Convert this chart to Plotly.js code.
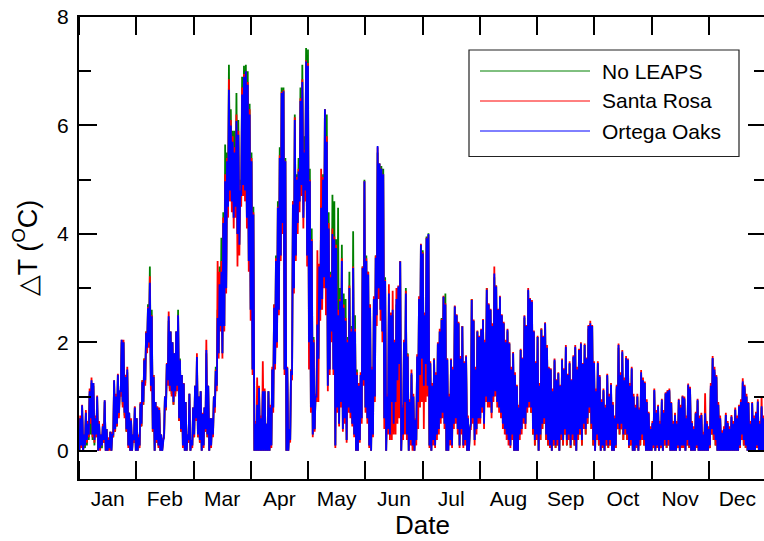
<!DOCTYPE html>
<html>
<head>
<meta charset="utf-8">
<script src="https://cdn.plot.ly/plotly-3.0.1.min.js"></script>
<style>
html,body{margin:0;padding:0;overflow:hidden;background:#fff;}
#chart{width:768px;height:541px;}
</style>
</head>
<body>
<div id="chart"></div>
<script>
// Month tick labels (equal-width months on the axis)
const monthLabels = ["Jan","Feb","Mar","Apr","May","Jun","Jul","Aug","Sep","Oct","Nov","Dec"];
const seriesNames = ["No LEAPS","Santa Rosa","Ortega Oaks"];

// Daily peak / trough of ΔT (°C), day 0 = 1 Jan
const blueMax = [
0.6,0.84,0.3,0.7,0.5,1.1,1.3,1.25,0.6,1.0,
0.5,0.3,0.45,0.93,0.4,0.2,0.35,0.3,1.3,1.0,
1.4,1.1,2.05,2.0,1.36,1.5,0.7,0.56,0.3,0.8,
0.6,0.25,0.87,1.27,1.67,2.17,2.63,3.1,2.48,1.36,
0.9,0.8,0.75,0.3,0.2,1.0,1.6,2.48,2.2,2.0,
1.8,2.2,2.5,1.67,1.4,1.24,0.9,0.3,1.05,0.2,
0.8,1.2,1.73,1.0,1.1,0.68,0.8,1.86,1.2,0.6,
0.6,1.0,1.47,2.45,3.07,3.3,4.2,4.97,5.34,6.66,
6.0,5.7,5.5,6.08,5.83,4.8,6.57,6.9,7.0,6.75,
6.2,5.34,4.36,0.5,0.85,1.16,0.6,1.1,1.1,0.5,
1.1,0.8,1.5,2.64,3.5,4.48,5.4,6.6,6.63,5.34,
1.53,0.4,1.47,4.54,6.1,5.0,5.15,6.45,6.8,5.5,
7.18,7.1,4.97,3.87,2.0,1.0,2.33,3.4,4.48,5.0,
6.3,5.7,4.1,3.2,4.0,3.9,3.74,2.5,2.76,3.5,
2.64,2.4,2.0,3.0,2.2,3.37,2.2,1.4,1.2,1.4,
3.37,4.97,3.5,3.25,2.64,1.5,2.8,3.56,5.62,5.3,
5.2,5.1,3.13,1.0,2.9,2.5,2.6,2.0,2.8,3.03,
3.49,0.8,2.0,2.9,1.74,0.9,1.43,1.0,0.57,1.74,
2.8,3.8,3.64,2.5,3.92,4.0,1.62,1.2,1.68,1.4,
1.98,2.2,2.41,2.84,2.7,1.68,1.0,1.68,1.5,2.66,
2.5,2.35,1.7,2.29,1.62,1.74,0.6,0.39,2.78,2.4,
1.5,2.2,2.1,2.23,2.41,2.0,2.97,2.7,2.6,2.3,
3.27,3.03,2.6,2.84,2.5,2.35,2.0,2.23,1.98,1.5,
1.8,1.4,1.19,0.8,1.86,1.7,2.48,2.3,2.97,2.8,
2.75,2.2,1.62,2.1,1.2,2.23,2.1,2.35,1.9,1.52,
1.5,1.1,1.68,1.3,1.43,1.2,1.68,1.5,1.92,1.4,
1.62,1.3,1.74,1.92,1.5,1.86,1.98,1.6,1.95,1.7,
2.3,2.35,2.3,1.62,1.1,1.62,1.37,0.9,1.12,0.8,
1.4,1.0,1.22,0.85,0.6,1.19,1.95,1.4,1.83,1.3,
1.71,1.68,1.2,1.52,1.0,0.8,1.0,0.76,1.45,1.3,
1.25,0.9,0.69,0.4,0.51,1.12,0.7,0.82,0.5,0.94,
0.7,1.06,1.1,1.12,0.88,0.5,0.66,0.5,0.94,0.8,
1.0,0.97,0.6,1.22,1.15,0.51,0.4,0.69,0.94,0.6,
0.66,0.3,0.69,0.5,0.4,1.2,1.71,1.5,1.37,0.85,
0.6,0.33,0.4,0.66,0.51,0.4,0.63,0.5,0.76,0.6,
0.82,0.9,1.28,1.19,1.0,0.88,0.5,0.88,0.6,0.69,
0.91,0.5,0.82,0.6,0.8];

const blueMin = [
0,0.1,0,0.1,0.2,0.3,0.6,0.3,0.2,0.3,
0,0.05,0.1,0.2,0,0,0.05,0,0.3,0.4,
0.5,0.7,1.1,0.9,0.7,0.4,0.1,0,0,0.2,
0,0,0.1,0.5,0.9,1.3,1.9,2.0,1.2,0.4,
0,0.2,0.1,0,0,0.3,0.8,1.3,1.2,1.1,
0.9,1.1,1.2,0.6,0.4,0.1,0,0,0.2,0,
0.1,0.3,0.6,0.3,0.2,0,0.1,0.4,0.3,0,
0.1,0.3,0.8,1.2,1.8,2.3,1.8,2.3,3.0,4.5,
4.8,4.6,4.3,4.5,4.0,3.8,4.7,4.9,4.8,4.3,
3.5,2.6,1.5,0,0,0,0,0,0,0,
0,0,0.1,0.8,1.6,2.0,2.6,3.6,4.2,1.5,
0,0,0.2,1.4,3.0,3.6,4.2,4.6,4.9,4.3,
4.8,3.6,2.0,0.8,0.3,0.4,1.0,1.7,2.6,2.8,
3.2,3.0,1.2,1.5,2.2,1.5,0.1,0.8,0.5,0.9,
0.4,0.6,0.2,0.8,0.7,0.5,0.3,0,0,0.2,
0.6,1.3,0.8,0.6,0.1,0,0.3,1.0,2.5,3.0,
2.6,2.2,0.6,0,0.4,0.3,0.9,0.5,0.9,1.3,
1.6,0,0.3,0.9,0.3,0,0.2,0.1,0,0.2,
0.9,1.4,1.7,1.2,1.6,1.2,0.1,0,0.2,0.1,
0.3,0.4,0.6,0.7,0.5,0,0,0.2,0.1,0.5,
0.6,0.4,0.1,0.4,0.1,0.2,0,0,0.5,0.6,
0.2,0.4,0.6,0.6,0.8,0.5,1.0,0.9,0.9,0.7,
1.0,1.1,0.9,0.8,0.7,0.5,0.4,0.3,0.2,0.1,
0.3,0,0,0,0.3,0.4,0.6,0.5,0.8,0.9,
0.8,0.4,0.2,0.3,0,0.3,0.5,0.6,0.3,0.2,
0.1,0,0.2,0.1,0.2,0,0.3,0.2,0.4,0.2,
0.3,0.1,0.3,0.2,0,0.3,0.4,0.2,0.5,0.4,
0.6,0.8,0.5,0.2,0,0.3,0.2,0,0.1,0,
0.2,0.1,0.2,0,0,0.1,0.5,0.4,0.5,0.3,
0.4,0.3,0.1,0.2,0,0,0.1,0,0.2,0.3,
0.2,0,0,0,0,0.1,0,0.1,0,0.1,
0,0.2,0.1,0.2,0,0,0,0,0.1,0,
0.1,0.1,0,0.2,0.1,0,0,0,0.1,0,
0,0,0,0,0,0.1,0.4,0.3,0.2,0,
0,0,0,0,0,0,0,0,0,0,
0,0.1,0.3,0.2,0.1,0,0,0,0,0,
0.1,0,0,0,0];

const greenMax = [
0.6,0.8,0.3,0.7,0.5,1.05,1.25,1.2,0.6,0.95,
0.5,0.3,0.45,0.9,0.4,0.2,0.35,0.3,1.25,1.0,
1.4,1.1,2.0,2.0,1.36,1.45,0.7,0.56,0.3,0.8,
0.6,0.25,0.87,1.3,1.7,2.2,2.7,3.4,2.6,1.4,
0.9,0.8,0.7,0.3,0.2,1.0,1.6,2.4,2.2,2.0,
1.8,2.2,2.6,1.7,1.4,1.24,0.9,0.3,1.05,0.2,
0.8,1.2,1.7,1.0,1.1,0.68,0.8,1.8,1.2,0.6,
0.6,1.0,1.55,2.6,3.4,3.93,4.4,5.65,5.5,7.12,
6.3,5.9,5.9,6.6,6.1,5.0,6.9,7.1,7.12,7.0,
6.4,5.5,4.5,0.5,0.8,1.1,0.6,1.05,1.1,0.5,
1.1,0.8,1.5,2.7,3.6,4.6,5.6,6.7,6.7,5.4,
1.53,0.4,1.5,4.6,6.2,5.1,5.4,6.7,7.12,5.8,
7.43,7.4,5.2,4.1,2.1,1.0,2.3,3.4,4.5,5.1,
6.3,6.2,4.4,3.3,4.72,4.6,3.9,4.48,3.0,3.8,
2.9,2.8,2.1,3.3,2.3,4.05,2.5,1.5,1.2,1.4,
3.4,5.0,3.6,3.3,2.7,1.5,2.8,3.6,5.5,5.3,
5.25,5.2,3.2,1.0,2.8,2.5,2.5,2.0,2.7,3.0,
3.5,0.8,2.0,3.0,1.8,0.9,1.4,1.0,0.57,1.7,
2.8,3.8,3.7,2.5,3.95,4.01,1.6,1.2,1.7,1.4,
1.95,2.2,2.45,2.84,2.9,1.7,1.0,1.68,1.5,2.66,
2.5,2.35,1.7,2.3,1.6,1.74,0.6,0.39,2.8,2.4,
1.5,2.2,2.1,2.2,2.4,2.0,3.0,2.7,2.6,2.3,
3.2,3.05,2.6,2.8,2.5,2.35,2.0,2.2,1.98,1.5,
1.8,1.4,1.2,0.8,1.86,1.7,2.45,2.3,2.95,2.8,
2.75,2.2,1.6,2.1,1.2,2.25,2.1,2.35,1.9,1.52,
1.5,1.1,1.65,1.3,1.43,1.2,1.65,1.5,1.9,1.4,
1.6,1.3,1.72,1.9,1.5,1.86,1.95,1.6,1.95,1.7,
2.25,2.3,2.3,1.6,1.1,1.6,1.35,0.9,1.1,0.8,
1.38,1.0,1.2,0.85,0.6,1.15,1.9,1.4,1.8,1.3,
1.68,1.65,1.2,1.5,1.0,0.8,1.0,0.76,1.4,1.3,
1.2,0.9,0.69,0.4,0.5,1.1,0.7,0.8,0.5,0.9,
0.7,1.05,1.08,1.1,0.88,0.5,0.66,0.5,0.9,0.8,
1.0,0.95,0.6,1.2,1.12,0.5,0.4,0.69,0.92,0.6,
0.66,0.3,0.69,0.5,0.4,1.15,1.7,1.45,1.35,0.85,
0.6,0.33,0.4,0.66,0.5,0.4,0.62,0.5,0.75,0.6,
0.8,0.9,1.25,1.15,1.0,0.88,0.5,0.86,0.6,0.69,
0.9,0.5,0.8,0.6,0.78];

const greenMin = [
0,0.05,0,0.05,0.1,0.2,0.3,0.2,0.1,0.25,
0,0.05,0.05,0.15,0,0,0.05,0,0.25,0.35,
0.45,0.65,1.05,0.85,0.65,0.35,0.1,0,0,0.15,
0,0,0.1,0.45,0.85,1.25,1.85,1.95,1.15,0.35,
0,0.15,0.1,0,0,0.25,0.75,1.25,1.15,1.05,
0.85,1.05,1.15,0.55,0.35,0.1,0,0,0.15,0,
0.1,0.25,0.55,0.25,0.15,0,0.1,0.35,0.25,0,
0.1,0.3,0.8,1.2,1.8,2.3,1.8,2.3,3.0,4.5,
4.8,4.6,4.3,4.5,4.0,3.8,4.7,4.9,4.8,4.3,
3.5,2.6,1.5,0,0,0,0,0,0,0,
0,0,0.1,0.8,1.6,2.0,2.6,3.6,4.2,1.5,
0,0,0.2,1.4,3.0,3.6,4.2,4.6,4.9,4.3,
4.8,3.6,2.0,0.8,0.3,0.4,1.0,1.7,2.6,2.8,
3.2,3.0,1.2,1.5,2.2,1.5,0.1,0.8,0.5,0.9,
0.4,0.6,0.2,0.8,0.7,0.5,0.3,0,0,0.2,
0.6,1.3,0.8,0.6,0.1,0,0.3,1.0,2.5,3.0,
2.6,2.2,0.6,0,0.4,0.3,0.9,0.5,0.9,1.3,
1.6,0,0.3,0.9,0.3,0,0.2,0.1,0,0.2,
0.9,1.4,1.7,1.2,1.6,1.2,0.1,0,0.2,0.1,
0.3,0.4,0.6,0.7,0.5,0,0,0.2,0.1,0.5,
0.6,0.4,0.1,0.4,0.1,0.2,0,0,0.5,0.6,
0.2,0.4,0.6,0.6,0.8,0.5,1.0,0.9,0.9,0.7,
1.0,1.1,0.9,0.8,0.7,0.5,0.4,0.3,0.2,0.1,
0.3,0,0,0,0.3,0.4,0.6,0.5,0.8,0.9,
0.7,0.3,0.1,0.2,0,0.2,0.4,0.5,0.2,0.1,
0.05,0,0.1,0.05,0.1,0,0.2,0.1,0.3,0.1,
0.2,0.05,0.2,0.1,0,0.2,0.3,0.1,0.4,0.3,
0.5,0.7,0.4,0.1,0,0.2,0.1,0,0.05,0,
0.1,0.05,0.1,0,0,0.05,0.4,0.3,0.4,0.2,
0.3,0.2,0.05,0.1,0,0,0.05,0,0.1,0.2,
0.1,0,0,0,0,0.05,0,0.05,0,0.05,
0,0.1,0.05,0.1,0,0,0,0,0.05,0,
0.05,0.05,0,0.1,0.05,0,0,0,0.05,0,
0,0,0,0,0,0.05,0.3,0.2,0.1,0,
0,0,0,0,0,0,0,0,0,0,
0,0.05,0.2,0.1,0.05,0,0,0,0,0,
0.05,0,0,0,0];

const redMax = [
0.65,0.85,0.3,0.75,0.55,1.15,1.35,1.25,0.65,1.02,
0.55,0.3,0.5,0.93,0.4,0.25,0.35,0.35,1.3,1.05,
1.42,1.1,2.05,2.05,1.4,1.55,0.7,0.6,0.3,0.82,
0.6,0.3,0.9,1.3,1.7,2.2,2.65,3.22,2.5,1.4,
0.9,0.82,0.8,0.3,0.2,1.0,1.62,2.57,2.2,2.0,
1.8,2.2,2.5,1.67,1.4,1.25,0.9,0.3,1.05,0.2,
0.8,1.2,1.8,1.0,1.1,0.7,0.8,2.05,1.2,0.6,
0.6,1.0,1.5,3.5,3.3,3.5,4.3,5.1,5.4,6.85,
6.1,5.8,5.6,6.2,5.9,4.9,6.7,6.95,7.0,6.8,
6.3,5.4,4.4,0.55,1.35,1.2,0.65,1.65,1.15,0.5,
1.1,0.85,1.55,2.7,3.55,4.5,5.45,6.62,6.65,5.35,
1.55,0.4,1.5,4.6,6.15,5.05,5.2,6.5,6.85,5.55,
7.2,7.15,5.0,3.9,2.05,1.05,3.7,3.45,5.2,5.05,
6.3,5.8,4.2,3.25,4.1,3.95,3.8,2.6,2.8,3.55,
2.7,2.45,2.05,3.05,2.25,3.4,2.25,1.45,1.25,1.45,
3.4,4.97,3.55,3.3,2.7,1.55,2.85,3.6,5.6,5.3,
5.2,5.1,3.15,1.05,3.07,2.55,2.95,2.05,3.0,3.05,
3.5,0.85,2.05,2.95,1.78,0.95,1.5,1.05,0.6,1.78,
2.85,3.82,3.66,2.55,3.93,3.98,1.65,1.25,1.7,1.45,
2.0,2.25,2.43,2.86,2.72,1.7,1.05,1.7,1.55,2.68,
2.52,2.38,1.75,2.3,1.65,1.76,0.65,0.4,2.8,2.42,
1.55,2.22,2.12,2.25,2.43,2.05,3.0,2.72,2.62,2.35,
3.4,3.05,2.62,2.86,2.52,2.38,2.05,2.25,2.0,1.55,
1.82,1.45,1.22,0.85,1.88,1.72,2.5,2.32,3.0,2.82,
2.78,2.22,1.65,2.12,1.25,2.26,2.12,2.37,1.95,1.55,
1.52,1.15,1.7,1.32,1.45,1.22,1.7,1.52,1.95,1.42,
1.65,1.32,1.76,1.95,1.55,1.88,2.0,1.62,1.98,1.72,
2.32,2.4,2.32,1.65,1.15,1.65,1.4,0.95,1.15,0.85,
1.42,1.05,1.25,0.9,0.65,1.22,1.98,1.45,1.86,1.35,
1.75,1.7,1.25,1.55,1.05,0.85,1.05,0.8,1.49,1.35,
1.28,0.95,0.72,0.45,0.55,1.15,0.75,0.85,0.55,0.96,
0.75,1.08,1.12,1.15,0.9,0.55,0.7,0.55,0.96,0.85,
1.02,1.0,0.65,1.24,1.18,0.55,0.45,0.72,0.96,0.65,
0.7,0.35,1.06,0.55,0.45,1.25,1.75,1.55,1.4,0.9,
0.65,0.38,0.45,0.7,0.55,0.45,0.66,0.55,0.8,0.65,
0.85,0.95,1.34,1.22,1.05,0.9,0.55,0.9,0.65,0.72,
0.95,0.55,1.0,0.65,0.85];

const redMin = [
0,0.05,0,0.1,0.15,0.25,0.5,0.25,0.15,0.25,
0,0,0.1,0.15,0,0,0,0,0.25,0.35,
0.45,0.6,1.0,0.8,0.6,0.35,0.05,0,0,0.15,
0,0,0.05,0.45,0.85,1.2,1.8,1.9,1.1,0.35,
0,0.15,0.05,0,0,0.25,0.75,1.2,1.1,1.0,
0.85,1.0,1.1,0.55,0.35,0.05,0,0,0.15,0,
0.05,0.25,0.55,0.25,0.15,0,0.05,0.35,0.25,0,
0.05,0.25,0.7,1.1,1.7,2.2,1.7,2.2,2.9,4.3,
4.6,4.4,4.1,4.3,3.4,3.6,4.5,4.7,4.6,4.1,
3.3,2.4,1.4,0,0,0,0,0,0,0,
0,0,0.05,0.7,1.5,1.9,2.5,3.5,4.0,1.4,
0,0,0.15,1.3,2.9,3.5,4.0,4.4,4.7,4.1,
4.6,3.4,1.5,0.7,0.25,0.35,0.9,0.9,2.4,2.6,
3.0,2.5,1.1,1.4,2.0,1.4,0.05,0.7,0.45,0.8,
0.35,0.5,0.15,0.7,0.6,0.45,0.25,0,0,0.15,
0.5,1.2,0.7,0.5,0.05,0,0.25,0.9,2.3,2.8,
2.4,2.0,0.4,0,0.3,0.2,0.2,0.3,0.3,0.5,
0.6,0,0.2,0.3,0.2,0,0.1,0,0,0.1,
0.4,0.8,0.9,0.4,0.9,1.0,0.05,0,0.1,0.05,
0.2,0.3,0.5,0.6,0.4,0,0,0.1,0.05,0.4,
0.5,0.3,0.05,0.3,0.05,0.1,0,0,0.4,0.5,
0.1,0.3,0.5,0.5,0.7,0.4,0.9,0.8,0.8,0.6,
0.9,1.0,0.8,0.7,0.6,0.4,0.3,0.2,0.1,0.05,
0.2,0,0,0,0.2,0.3,0.5,0.4,0.7,0.8,
0.7,0.3,0.1,0.2,0,0.2,0.4,0.5,0.2,0.1,
0.05,0,0.1,0.05,0.1,0,0.2,0.1,0.3,0.1,
0.2,0.05,0.2,0.1,0,0.2,0.3,0.1,0.4,0.3,
0.5,0.7,0.4,0.1,0,0.2,0.1,0,0.05,0,
0.1,0.05,0.1,0,0,0.05,0.4,0.3,0.4,0.2,
0.3,0.2,0.05,0.1,0,0,0.05,0,0.1,0.2,
0.1,0,0,0,0,0.05,0,0.05,0,0.05,
0,0.1,0.05,0.1,0,0,0,0,0.05,0,
0.05,0.05,0,0.1,0.05,0,0,0,0.05,0,
0,0,0,0,0,0.05,0.3,0.2,0.1,0,
0,0,0,0,0,0,0,0,0,0,
0,0.05,0.2,0.1,0.05,0,0,0,0,0,
0.05,0,0,0,0];

const colors = ["#008000","#ff0000","#0000ff"];

// Each day: trough in the early morning, peak in the afternoon
function daily(mins, maxs){
  const x = [], y = [];
  for (let i = 0; i < maxs.length; i++){
    x.push((i + 0.2) * 12 / 365); y.push(mins[i]);
    x.push((i + 0.65) * 12 / 365); y.push(maxs[i]);
  }
  return {x, y};
}
const sets = [daily(greenMin, greenMax), daily(redMin, redMax), daily(blueMin, blueMax)];
const traces = sets.map((s, k) => ({
  type: "scatter", mode: "lines", x: s.x, y: s.y, name: seriesNames[k],
  line: {color: colors[k], width: 1.8}, showlegend: false, hoverinfo: "skip"
}));

const F = "Arial, 'Liberation Sans', Helvetica, sans-serif";
// plot area in pixels: x 79..766, y 17..479
const L = 79, R = 766, T = 17, B = 479;
const px = v => (v - L) / (R - L);
const py = v => (B - v) / (B - T);

const shapes = [
  {type: "rect", xref: "paper", yref: "paper", x0: px(469), x1: px(739), y0: py(156.5), y1: py(50),
   line: {color: "#222", width: 1.2}, fillcolor: "#fff", layer: "above"}
];
const annotations = [];
const legY = [71, 101, 131];
for (let k = 0; k < 3; k++){
  shapes.push({type: "line", xref: "paper", yref: "paper", x0: px(480), x1: px(590), y0: py(legY[k]), y1: py(legY[k]),
    line: {color: colors[k], width: 1}, layer: "above"});
  annotations.push({xref: "paper", yref: "paper", x: px(600), y: py(legY[k]), xanchor: "left", yanchor: "middle",
    text: seriesNames[k], showarrow: false, font: {family: F, size: 21, color: "#000"}});
}

const layout = {
  width: 768, height: 541,
  margin: {l: L, r: 768 - R, t: T, b: 541 - B},
  paper_bgcolor: "#fff", plot_bgcolor: "#fff",
  font: {family: F, color: "#000"},
  showlegend: false,
  xaxis: {
    range: [0, 12], showgrid: false, zeroline: false,
    showline: true, linecolor: "#000", linewidth: 2, mirror: "ticks",
    tickmode: "array", tickvals: monthLabels.map((m, i) => i + 0.5), ticktext: monthLabels,
    ticks: "", ticklen: 0, tickfont: {family: F, size: 21, color: "#000"},
    minor: {tickmode: "linear", tick0: 0, dtick: 1, ticks: "inside", ticklen: 18, tickwidth: 2, tickcolor: "#000", showgrid: false},
    title: {text: "Date", font: {family: F, size: 26, color: "#000"}, standoff: 4}
  },
  yaxis: {
    range: [-0.52, 8], showgrid: false, zeroline: false,
    showline: true, linecolor: "#000", linewidth: 2, mirror: "ticks",
    tickmode: "array", tickvals: [0, 2, 4, 6, 8],
    ticks: "inside", ticklen: 18, tickwidth: 2, tickcolor: "#000",
    minor: {tickmode: "array", tickvals: [1, 3, 5, 7], ticks: "inside", ticklen: 12, tickwidth: 2, tickcolor: "#000", showgrid: false},
    tickfont: {family: F, size: 21, color: "#000"}, ticklabelstandoff: 4,
    title: {text: "\u25B3T (<sup>O</sup>C)", font: {family: F, size: 27, color: "#000"}, standoff: 12}
  },
  shapes: shapes,
  annotations: annotations
};

Plotly.newPlot("chart", traces, layout, {staticPlot: true, displayModeBar: false});
</script>
</body>
</html>
